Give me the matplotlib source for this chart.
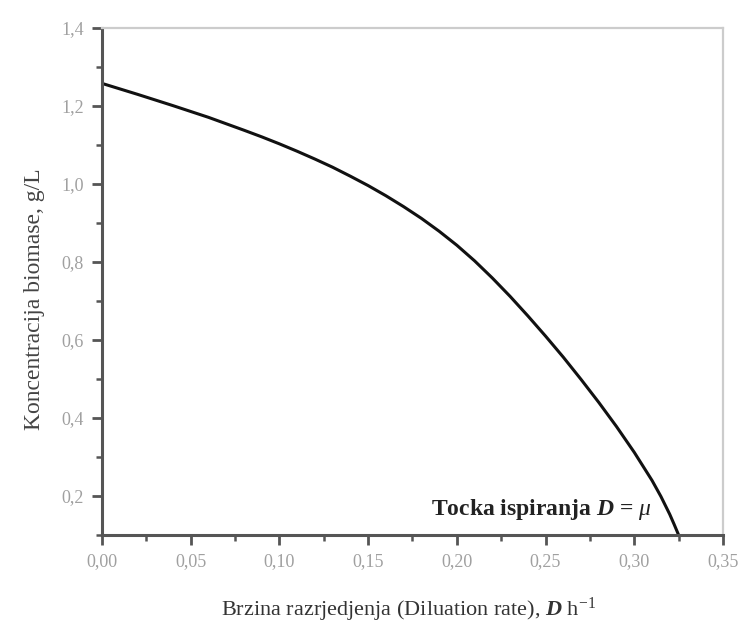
import matplotlib
matplotlib.use("Agg")
import matplotlib.pyplot as plt
from matplotlib.ticker import MultipleLocator, FuncFormatter

# Steady-state biomass vs. dilution rate in a chemostat
dilution_rate = [0.000, 0.020, 0.040, 0.060, 0.080, 0.090, 0.100, 0.110,
                 0.120, 0.130, 0.140, 0.150, 0.160, 0.170, 0.180, 0.190,
                 0.200, 0.210, 0.220, 0.230, 0.240, 0.250, 0.260, 0.270,
                 0.280, 0.290, 0.300, 0.310, 0.315, 0.320, 0.3225, 0.325]
biomass = [1.258, 1.230, 1.201, 1.171, 1.138, 1.121, 1.103, 1.084,
           1.064, 1.043, 1.020, 0.996, 0.970, 0.942, 0.912, 0.879,
           0.843, 0.803, 0.759, 0.712, 0.662, 0.610, 0.556, 0.499,
           0.440, 0.378, 0.312, 0.240, 0.199, 0.153, 0.127, 0.100]

x_ticks = [0.00, 0.05, 0.10, 0.15, 0.20, 0.25, 0.30, 0.35]
y_ticks = [0.2, 0.4, 0.6, 0.8, 1.0, 1.2, 1.4]

plt.rcParams["font.family"] = ["Liberation Serif", "DejaVu Serif"]
plt.rcParams["mathtext.fontset"] = "custom"
plt.rcParams["mathtext.rm"] = "Liberation Serif"
plt.rcParams["mathtext.it"] = "Liberation Serif:italic"
plt.rcParams["mathtext.bf"] = "Liberation Serif:bold"
plt.rcParams["mathtext.bfit"] = "Liberation Serif:bold:italic"

fig = plt.figure(figsize=(7.51, 6.31), dpi=100)
ax = fig.add_axes([0.1358, 0.1521, 0.8269, 0.8035])

ax.plot(dilution_rate, biomass, color="#111111", lw=2.2,
        solid_joinstyle="round", solid_capstyle="butt")

ax.set_xlim(0.0, 0.35)
ax.set_ylim(0.1, 1.4)
ax.set_xticks(x_ticks)
ax.set_yticks(y_ticks)
ax.xaxis.set_minor_locator(MultipleLocator(0.025))
ax.yaxis.set_minor_locator(MultipleLocator(0.1))

comma = lambda fmt: FuncFormatter(lambda v, p: (fmt % v).replace(".", ","))
ax.xaxis.set_major_formatter(comma("%.2f"))
ax.yaxis.set_major_formatter(comma("%.1f"))

for side in ("left", "bottom"):
    ax.spines[side].set_color("#555555")
    ax.spines[side].set_linewidth(2.2)
for side in ("top", "right"):
    ax.spines[side].set_color("#cccccc")
    ax.spines[side].set_linewidth(1.6)

ax.tick_params(which="major", direction="out", length=7, width=2.0,
               color="#555555", labelsize=13, labelcolor="#a0a0a0", pad=6)
ax.tick_params(which="minor", direction="out", length=4, width=1.8,
               color="#555555")
ax.tick_params(top=False, right=False, which="both")

ax.set_ylabel("Koncentracija biomase, g/L", fontsize=17, color="#444444")
ax.yaxis.set_label_coords(-0.092, 0.465)
ax.set_xlabel(r"Brzina razrjedjenja (Diluation rate), $\mathbfit{D}$ h$^{-1}$",
              fontsize=16, color="#333333")
ax.xaxis.set_label_coords(0.494, -0.12)

ax.text(0.310, 0.166, r"Tocka ispiranja $\mathbfit{D}$ = $\mu$",
        fontsize=17, fontweight="bold", color="#222222",
        ha="right", va="center")

fig.savefig("out.png", dpi=100, facecolor="white")
